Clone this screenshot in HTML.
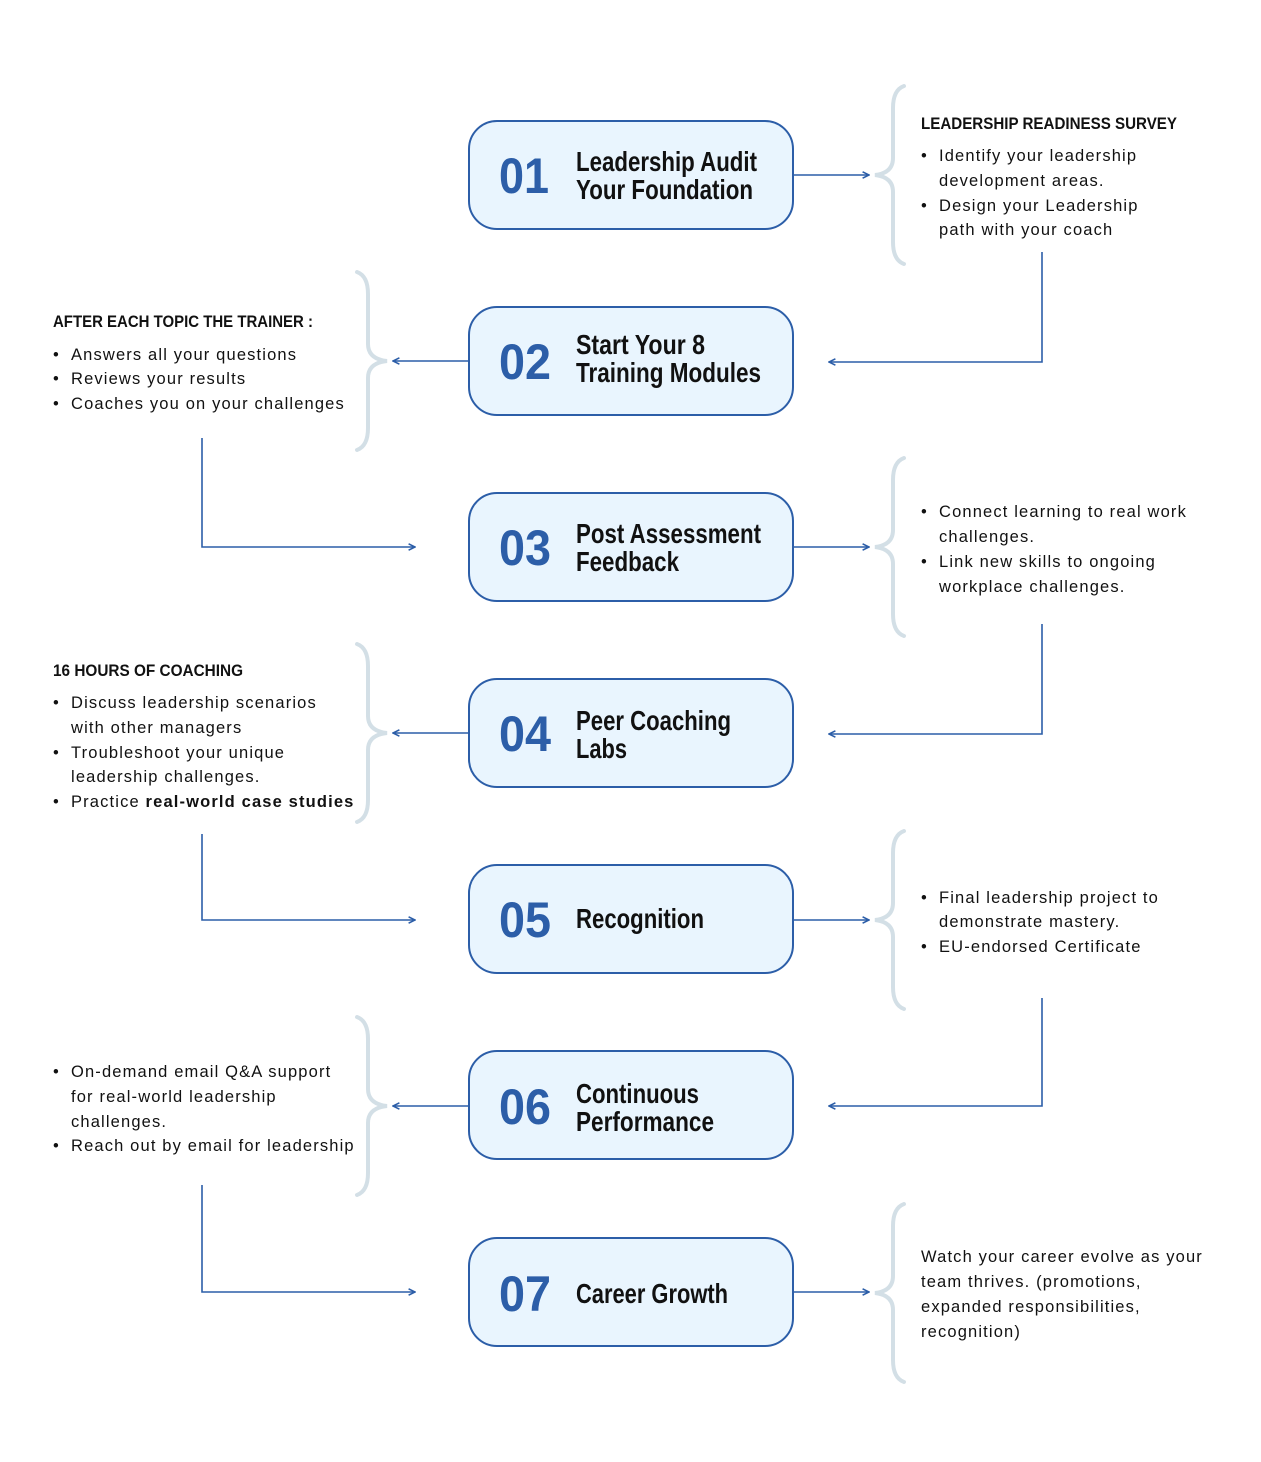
<!DOCTYPE html>
<html><head><meta charset="utf-8"><style>
html,body{margin:0;padding:0;background:#fff}
svg{display:block}
.n{font-family:"Liberation Sans",sans-serif;font-weight:bold;font-size:50px;fill:#2c5ea8}
.t{font-family:"Liberation Sans",sans-serif;font-weight:bold;font-size:28px;fill:#111}
.h{font-family:"Liberation Sans",sans-serif;font-weight:bold;font-size:17px;fill:#111}
.b{font-family:"Liberation Sans",sans-serif;font-size:16.5px;fill:#111;letter-spacing:1.15px}
.box{fill:#e9f5fe;stroke:#2c5ea8;stroke-width:2}
.ln{fill:none;stroke:#2c5ea8;stroke-width:1.6}
.br{fill:none;stroke:#d3dfe6;stroke-width:4;stroke-linecap:round}
</style></head><body>
<svg width="1261" height="1462" viewBox="0 0 1261 1462" xmlns="http://www.w3.org/2000/svg">
<defs>
<marker id="a" viewBox="0 0 10 10" refX="9" refY="5" markerWidth="8" markerHeight="8" orient="auto-start-reverse" markerUnits="userSpaceOnUse"><path d="M1,1 L9,5 L1,9" fill="none" stroke="#2c5ea8" stroke-width="2"/></marker>
<path id="rb" d="M904,-89 Q893,-85 893,-67 L893,-17 Q893,-2 875,0 Q893,2 893,17 L893,67 Q893,85 904,89"/>
<path id="lb" d="M357,-89 Q368,-85 368,-67 L368,-17 Q368,-2 387,0 Q368,2 368,17 L368,67 Q368,85 357,89"/>
</defs>

<g>
<rect class="box" x="469" y="121" width="324" height="108" rx="28"/>
<rect class="box" x="469" y="307" width="324" height="108" rx="28"/>
<rect class="box" x="469" y="493" width="324" height="108" rx="28"/>
<rect class="box" x="469" y="679" width="324" height="108" rx="28"/>
<rect class="box" x="469" y="865" width="324" height="108" rx="28"/>
<rect class="box" x="469" y="1051" width="324" height="108" rx="28"/>
<rect class="box" x="469" y="1238" width="324" height="108" rx="28"/>
</g>
<g lengthAdjust="spacingAndGlyphs">
<text class="n" x="499" y="193" textLength="50" lengthAdjust="spacingAndGlyphs">01</text>
<text class="t" x="576" y="171" textLength="181" lengthAdjust="spacingAndGlyphs">Leadership Audit</text><text class="t" x="576" y="199" textLength="177" lengthAdjust="spacingAndGlyphs">Your Foundation</text>
<text class="n" x="499" y="379" textLength="52" lengthAdjust="spacingAndGlyphs">02</text>
<text class="t" x="576" y="354" textLength="129" lengthAdjust="spacingAndGlyphs">Start Your 8</text><text class="t" x="576" y="382" textLength="185" lengthAdjust="spacingAndGlyphs">Training Modules</text>
<text class="n" x="499" y="565" textLength="52" lengthAdjust="spacingAndGlyphs">03</text>
<text class="t" x="576" y="543" textLength="185" lengthAdjust="spacingAndGlyphs">Post Assessment</text><text class="t" x="576" y="571" textLength="103" lengthAdjust="spacingAndGlyphs">Feedback</text>
<text class="n" x="499" y="751" textLength="52" lengthAdjust="spacingAndGlyphs">04</text>
<text class="t" x="576" y="730" textLength="155" lengthAdjust="spacingAndGlyphs">Peer Coaching</text><text class="t" x="576" y="758" textLength="51" lengthAdjust="spacingAndGlyphs">Labs</text>
<text class="n" x="499" y="937" textLength="52" lengthAdjust="spacingAndGlyphs">05</text>
<text class="t" x="576" y="928" textLength="128" lengthAdjust="spacingAndGlyphs">Recognition</text>
<text class="n" x="499" y="1124" textLength="52" lengthAdjust="spacingAndGlyphs">06</text>
<text class="t" x="576" y="1103" textLength="123" lengthAdjust="spacingAndGlyphs">Continuous</text><text class="t" x="576" y="1131" textLength="138" lengthAdjust="spacingAndGlyphs">Performance</text>
<text class="n" x="499" y="1311" textLength="52" lengthAdjust="spacingAndGlyphs">07</text>
<text class="t" x="576" y="1303" textLength="152" lengthAdjust="spacingAndGlyphs">Career Growth</text>
</g>

<use href="#rb" class="br" transform="translate(0,175)"/>
<use href="#lb" class="br" transform="translate(0,361)"/>
<use href="#rb" class="br" transform="translate(0,547)"/>
<use href="#lb" class="br" transform="translate(0,733)"/>
<use href="#rb" class="br" transform="translate(0,920)"/>
<use href="#lb" class="br" transform="translate(0,1106)"/>
<use href="#rb" class="br" transform="translate(0,1293)"/>

<line class="ln" x1="793" y1="175" x2="869" y2="175" marker-end="url(#a)"/>
<line class="ln" x1="469" y1="361" x2="393" y2="361" marker-end="url(#a)"/>
<line class="ln" x1="793" y1="547" x2="869" y2="547" marker-end="url(#a)"/>
<line class="ln" x1="469" y1="733" x2="393" y2="733" marker-end="url(#a)"/>
<line class="ln" x1="793" y1="920" x2="869" y2="920" marker-end="url(#a)"/>
<line class="ln" x1="469" y1="1106" x2="393" y2="1106" marker-end="url(#a)"/>
<line class="ln" x1="793" y1="1292" x2="869" y2="1292" marker-end="url(#a)"/>

<polyline class="ln" points="1042,252 1042,362 829,362" marker-end="url(#a)"/>
<polyline class="ln" points="202,438 202,547 415,547" marker-end="url(#a)"/>
<polyline class="ln" points="1042,624 1042,734 829,734" marker-end="url(#a)"/>
<polyline class="ln" points="202,834 202,920 415,920" marker-end="url(#a)"/>
<polyline class="ln" points="1042,998 1042,1106 829,1106" marker-end="url(#a)"/>
<polyline class="ln" points="202,1185 202,1292 415,1292" marker-end="url(#a)"/>

<text class="h" x="921" y="129" textLength="256" lengthAdjust="spacingAndGlyphs">LEADERSHIP READINESS SURVEY</text>
<g class="b">
<text x="921" y="161">•</text><text x="939" y="161">Identify your leadership</text>
<text x="939" y="186">development areas.</text>
<text x="921" y="211">•</text><text x="939" y="211">Design  your Leadership</text>
<text x="939" y="235">path with your coach</text>

<text x="921" y="517">•</text><text x="939" y="517">Connect learning to real work</text>
<text x="939" y="542">challenges.</text>
<text x="921" y="567">•</text><text x="939" y="567">Link new skills to ongoing</text>
<text x="939" y="592">workplace challenges.</text>

<text x="921" y="903">•</text><text x="939" y="903">Final leadership project to</text>
<text x="939" y="927">demonstrate mastery.</text>
<text x="921" y="952">•</text><text x="939" y="952">EU-endorsed Certificate</text>

<text x="921" y="1262">Watch your career evolve as your</text>
<text x="921" y="1287">team thrives. (promotions,</text>
<text x="921" y="1312">expanded responsibilities,</text>
<text x="921" y="1337">recognition)</text>
</g>

<text class="h" x="53" y="327" textLength="260" lengthAdjust="spacingAndGlyphs">AFTER EACH TOPIC THE TRAINER :</text>
<g class="b">
<text x="53" y="360">•</text><text x="71" y="360">Answers all your questions</text>
<text x="53" y="384">•</text><text x="71" y="384">Reviews your results</text>
<text x="53" y="409">•</text><text x="71" y="409">Coaches you on your challenges</text>
</g>
<text class="h" x="53" y="676" textLength="190" lengthAdjust="spacingAndGlyphs">16 HOURS OF COACHING</text>
<g class="b">
<text x="53" y="708">•</text><text x="71" y="708">Discuss leadership scenarios</text>
<text x="71" y="733">with other managers</text>
<text x="53" y="758">•</text><text x="71" y="758">Troubleshoot your unique</text>
<text x="71" y="782">leadership challenges.</text>
<text x="53" y="807">•</text><text x="71" y="807">Practice <tspan font-weight="bold">real-world case studies</tspan></text>

<text x="53" y="1077">•</text><text x="71" y="1077">On-demand email Q&amp;A support</text>
<text x="71" y="1102">for real-world leadership</text>
<text x="71" y="1127">challenges.</text>
<text x="53" y="1151">•</text><text x="71" y="1151">Reach out by email for leadership</text>
</g>
</svg>
</body></html>
